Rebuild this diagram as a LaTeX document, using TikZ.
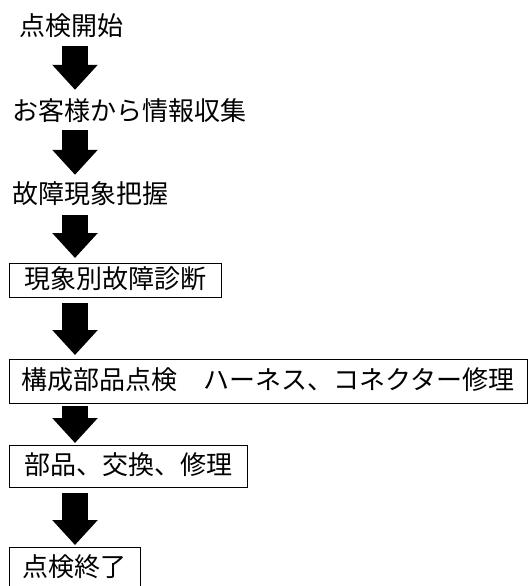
\documentclass[tikz,border=0pt]{standalone}
\usepackage{fontspec}
\newfontfamily\jpfont{Noto Sans CJK JP}
\usetikzlibrary{arrows.meta}
\tikzset{
  jptext/.style={font=\jpfont\fontsize{26}{30}\selectfont, text height=20.8pt, text depth=5.2pt, inner sep=0pt, anchor=west},
  stepbox/.style={font=\jpfont\fontsize{26}{30}\selectfont, text height=20.8pt, text depth=5.2pt, draw=black, line width=0.9pt, inner xsep=0pt, inner ysep=0pt, anchor=north west},
  blockarrow/.style={line width=26pt, -{Triangle[length=25pt,width=44pt]}, draw=black}
}
\begin{document}
\begin{tikzpicture}[x=1pt,y=-1pt]
\clip (0,0) rectangle (531,586);
\fill[white] (0,0) rectangle (531,586);
\coordinate (col) at (75,0);
\node[jptext] (t1) at (19,28) {点検開始};
\node[jptext] (t2) at (12,113) {お客様から情報収集};
\node[jptext] (t3) at (12,196) {故障現象把握};
\node[stepbox, minimum width=212pt, minimum height=34pt] (b1) at (9,263) {現象別故障診断};
\node[stepbox, minimum width=518pt, minimum height=44pt] (b2) at (9,359) {構成部品点検　ハーネス、コネクター修理};
\node[stepbox, minimum width=238pt, minimum height=42pt] (b3) at (9,445) {部品、交換、修理};
\node[stepbox, minimum width=131pt, minimum height=43pt] (b4) at (9,547) {点検終了};
\draw[blockarrow] ([yshift=-5pt]t1.south -| col) -- ([yshift=10pt]t2.north -| col);
\draw[blockarrow] ([yshift=-4pt]t2.south -| col) -- ([yshift=8pt]t3.north -| col);
\draw[blockarrow] ([yshift=-6pt]t3.south -| col) -- ([yshift=5pt]b1.north -| col);
\draw[blockarrow] ([yshift=-5pt]b1.south -| col) -- ([yshift=4pt]b2.north -| col);
\draw[blockarrow] ([yshift=-2pt]b2.south -| col) -- ([yshift=2pt]b3.north -| col);
\draw[blockarrow] ([yshift=-5pt]b3.south -| col) -- ([yshift=2pt]b4.north -| col);
\end{tikzpicture}
\end{document}
